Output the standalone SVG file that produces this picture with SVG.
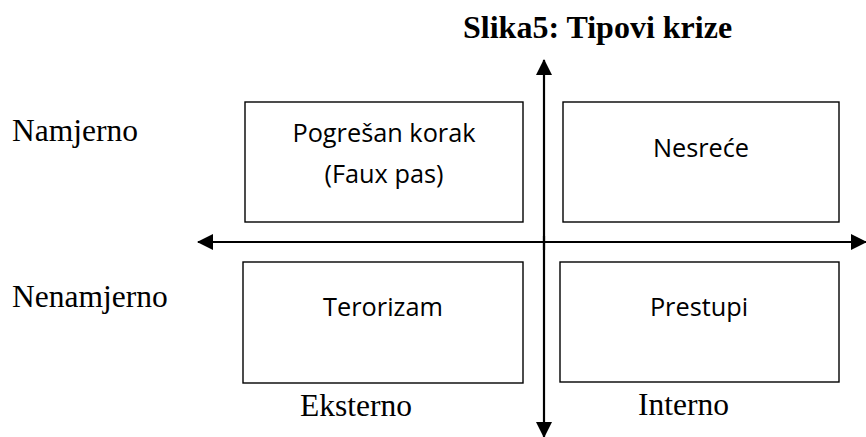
<svg xmlns="http://www.w3.org/2000/svg" width="866" height="437" viewBox="0 0 866 437">
<style>
.box{fill:#fff;stroke:#000;stroke-width:1.4}
.lbl{font-family:"Open Sans","Liberation Sans",sans-serif;font-size:25.3px;fill:#000;text-anchor:middle}
.tm{font-family:"Liberation Serif","Times New Roman",serif;font-size:31.5px;fill:#000}
.title{font-family:"Liberation Serif","Times New Roman",serif;font-size:32px;font-weight:bold;fill:#000}
.axis{stroke:#000;stroke-width:2.2;fill:none}
</style>
<defs>
<marker id="ah" markerUnits="userSpaceOnUse" markerWidth="16" markerHeight="16" viewBox="0 0 16 16" refX="15" refY="8" orient="auto">
<path d="M0,0 L16,8 L0,16 Z" fill="#000"/>
</marker>
</defs>
<rect width="866" height="437" fill="#fff"/>
<text class="title" x="463" y="38">Slika5: Tipovi krize</text>
<g id="connectors">
<line class="axis" x1="544" y1="250" x2="544" y2="60" marker-end="url(#ah)"/>
<line class="axis" x1="544" y1="236" x2="544" y2="437" marker-end="url(#ah)"/>
<line class="axis" x1="544" y1="242" x2="198" y2="242" marker-end="url(#ah)"/>
<line class="axis" x1="544" y1="242" x2="866" y2="242" marker-end="url(#ah)"/>
</g>
<g id="pogresan">
<rect class="box" x="245" y="102" width="278" height="120"/>
<text class="lbl" x="384" y="142">Pogrešan korak</text>
<text class="lbl" x="384" y="183">(Faux pas)</text>
</g>
<g id="nesrece">
<rect class="box" x="563" y="102" width="276" height="120"/>
<text class="lbl" x="701" y="157">Nesreće</text>
</g>
<g id="terorizam">
<rect class="box" x="243" y="262" width="280" height="121"/>
<text class="lbl" x="383" y="316">Terorizam</text>
</g>
<g id="prestupi">
<rect class="box" x="560" y="262" width="279" height="120"/>
<text class="lbl" x="699" y="316">Prestupi</text>
</g>
<g id="labels">
<text class="tm" x="12" y="141">Namjerno</text>
<text class="tm" x="12" y="307">Nenamjerno</text>
<text class="tm" x="300" y="416">Eksterno</text>
<text class="tm" x="638" y="415">Interno</text>
</g>
</svg>
